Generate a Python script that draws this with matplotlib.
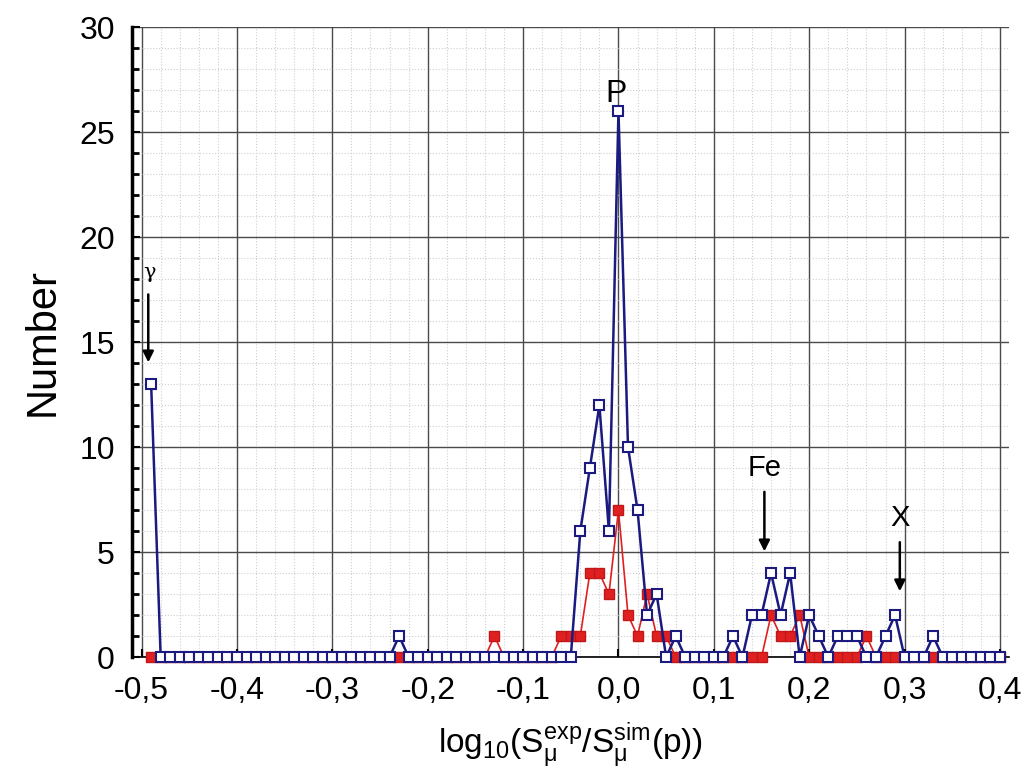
import numpy as np
import matplotlib
matplotlib.use("Agg")
import matplotlib.pyplot as plt
from matplotlib.ticker import MultipleLocator, FuncFormatter

# bin centres: -0.49 ... 0.40 step 0.01
x_bins = np.round(np.arange(-0.49, 0.405, 0.01), 2)

# blue (open squares) counts, one per bin
blue_counts = [
    13, 0, 0, 0, 0, 0, 0, 0, 0, 0,      # -0.49 .. -0.40
    0, 0, 0, 0, 0, 0, 0, 0, 0, 0,       # -0.39 .. -0.30
    0, 0, 0, 0, 0, 0, 1, 0, 0, 0,       # -0.29 .. -0.20
    0, 0, 0, 0, 0, 0, 0, 0, 0, 0,       # -0.19 .. -0.10
    0, 0, 0, 0, 0, 6, 9, 12, 6, 26,     # -0.09 .. 0.00
    10, 7, 2, 3, 0, 1, 0, 0, 0, 0,      # 0.01 .. 0.10
    0, 1, 0, 2, 2, 4, 2, 4, 0, 2,       # 0.11 .. 0.20
    1, 0, 1, 1, 1, 0, 0, 1, 2, 0,       # 0.21 .. 0.30
    0, 0, 1, 0, 0, 0, 0, 0, 0, 0,       # 0.31 .. 0.40
]

# red (filled squares) counts, one per bin
red_counts = [
    0, 0, 0, 0, 0, 0, 0, 0, 0, 0,       # -0.49 .. -0.40
    0, 0, 0, 0, 0, 0, 0, 0, 0, 0,       # -0.39 .. -0.30
    0, 0, 0, 0, 0, 0, 0, 0, 0, 0,       # -0.29 .. -0.20
    0, 0, 0, 0, 0, 0, 1, 0, 0, 0,       # -0.19 .. -0.10
    0, 0, 0, 1, 1, 1, 4, 4, 3, 7,       # -0.09 .. 0.00
    2, 1, 3, 1, 1, 0, 0, 0, 0, 0,       # 0.01 .. 0.10
    0, 0, 0, 0, 0, 2, 1, 1, 2, 0,       # 0.11 .. 0.20
    0, 0, 0, 0, 0, 1, 0, 0, 0, 0,       # 0.21 .. 0.30
    0, 0, 0, 0, 0, 0, 0, 0, 0, 0,       # 0.31 .. 0.40
]

x_ticks = [-0.5, -0.4, -0.3, -0.2, -0.1, 0.0, 0.1, 0.2, 0.3, 0.4]

plt.rcParams['font.family'] = ['Liberation Sans', 'DejaVu Sans']
plt.rcParams['mathtext.fontset'] = 'custom'
plt.rcParams['mathtext.rm'] = 'Liberation Sans'
plt.rcParams['mathtext.it'] = 'Liberation Sans'

fig = plt.figure(figsize=(10.28, 7.73), dpi=100)
ax = fig.add_axes([0.128, 0.150, 0.854, 0.815])

navy = '#1a1a80'
red = '#e02020'

ax.plot(x_bins, red_counts, color=red, lw=1.2, marker='s', ms=6.5,
        mfc=red, mec='#c01818', mew=1.0, clip_on=False, zorder=3)
ax.plot(x_bins, blue_counts, color=navy, lw=1.8, marker='s', ms=6.5,
        mfc='white', mec=navy, mew=1.5, clip_on=False, zorder=4)

ax.set_xlim(-0.5105, 0.41)
ax.set_ylim(0, 30)
ax.set_xticks(x_ticks)
ax.xaxis.set_major_formatter(FuncFormatter(
    lambda v, p: f"{v:.1f}".replace('.', ',').replace('-0,0', '0,0')))
ax.yaxis.set_major_locator(MultipleLocator(5))
ax.yaxis.set_minor_locator(MultipleLocator(1))
ax.xaxis.set_minor_locator(MultipleLocator(0.02))

ax.grid(True, which='major', color='#4a4a4a', lw=1.0)
ax.grid(True, which='minor', color='#cfcfcf', lw=0.8, ls=':')
ax.set_axisbelow(True)

for s in ['top', 'right']:
    ax.spines[s].set_visible(False)
ax.spines['left'].set_linewidth(2.5)
ax.spines['bottom'].set_linewidth(1.2)

ax.tick_params(axis='both', which='major', direction='in', labelsize=23,
               length=6, width=1.5)
ax.tick_params(axis='y', which='major', pad=12)
ax.tick_params(axis='x', which='major', pad=14)
ax.tick_params(axis='y', which='minor', direction='in', length=5, width=2)
ax.tick_params(axis='x', which='minor', length=0)

ax.set_ylabel('Number', fontsize=30, labelpad=12)
ax.set_xlabel(r'log$_{10}$(S$_{\mu}^{\rm exp}$/S$_{\mu}^{\rm sim}$(p))',
              fontsize=24, labelpad=10)

ax.text(-0.003, 26.8, 'P', fontsize=23, ha='center', va='center')
ax.annotate('', xy=(-0.493, 13.9), xytext=(-0.493, 17.4),
            arrowprops=dict(arrowstyle='-|>', color='black', lw=1.8,
                            mutation_scale=16))
ax.text(-0.492, 18.3, 'γ', fontsize=15, ha='center', va='center',
        family=['DejaVu Serif'])
ax.annotate('', xy=(0.153, 4.9), xytext=(0.153, 8.0),
            arrowprops=dict(arrowstyle='-|>', color='black', lw=1.8,
                            mutation_scale=16))
ax.text(0.153, 9.0, 'Fe', fontsize=21, ha='center', va='center')
ax.annotate('', xy=(0.295, 3.0), xytext=(0.295, 5.6),
            arrowprops=dict(arrowstyle='-|>', color='black', lw=1.8,
                            mutation_scale=16))
ax.text(0.295, 6.6, 'X', fontsize=21, ha='center', va='center')

fig.savefig('out.png', dpi=100)
